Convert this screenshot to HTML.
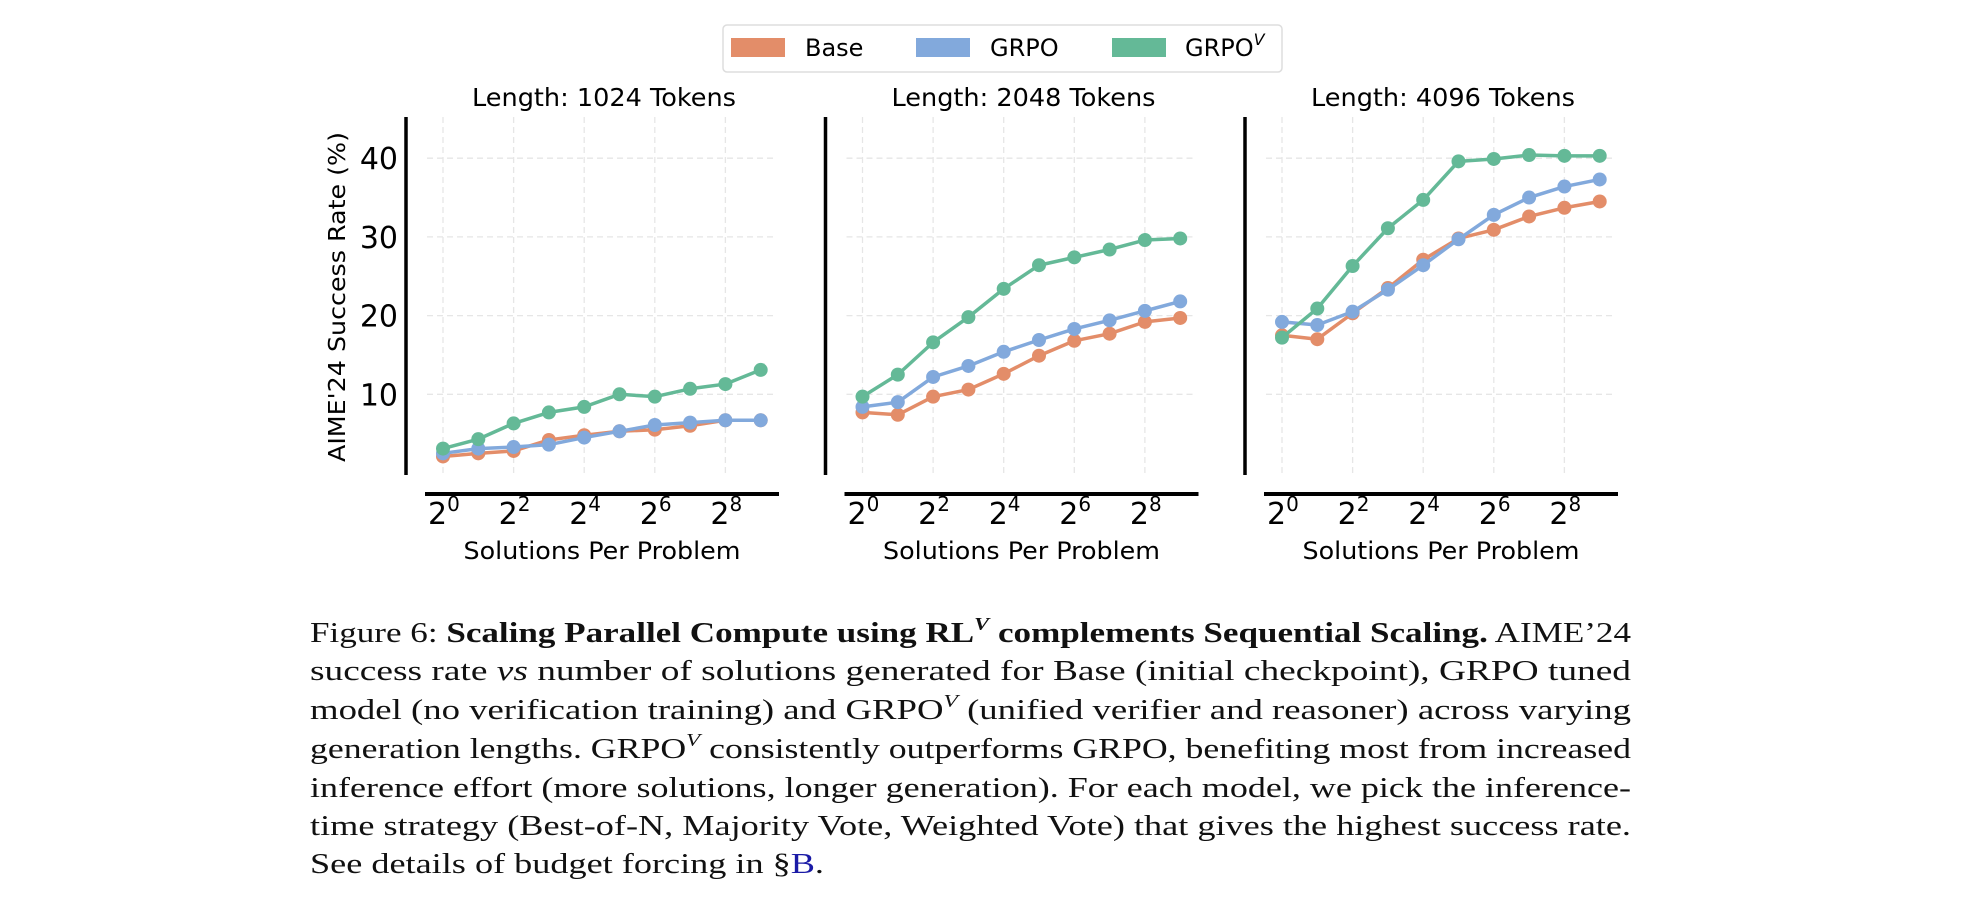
<!DOCTYPE html>
<html><head><meta charset="utf-8"><style>
html,body{margin:0;padding:0;background:#fff;}
svg{display:block;}
</style></head><body>
<svg id="fig" width="1974" height="902" viewBox="0 0 1974 902" xmlns="http://www.w3.org/2000/svg" font-family="'DejaVu Sans','Liberation Sans',sans-serif">
  <g>
    <rect x="723" y="25" width="559" height="47" rx="4" fill="#fff" stroke="#ddd" stroke-width="1.5"/>
    <rect x="731" y="38" width="54" height="19" fill="#E38D69"/>
    <text x="805" y="56" font-size="24">Base</text>
    <rect x="916" y="38" width="54" height="19" fill="#82A9DC"/>
    <text x="990" y="56" font-size="24">GRPO</text>
    <rect x="1112" y="38" width="54" height="19" fill="#64B997"/>
    <text x="1185" y="56" font-size="24">GRPO<tspan font-size="16" font-style="italic" dy="-11">V</tspan></text>
  </g>
  <text transform="translate(345,297) rotate(-90)" text-anchor="middle" font-size="23" textLength="330" lengthAdjust="spacingAndGlyphs">AIME'24 Success Rate (%)</text>
  <g id="panels"></g>
  <g font-family="'Liberation Serif',serif" font-size="28" fill="#111">
    <text x="310" y="642" textLength="1321" lengthAdjust="spacingAndGlyphs">Figure 6: <tspan font-weight="bold">Scaling Parallel Compute using RL<tspan font-size="18" font-style="italic" dy="-12">V</tspan><tspan dy="12"> complements Sequential Scaling.</tspan></tspan> AIME’24</text>
    <text x="310" y="680" textLength="1321" lengthAdjust="spacingAndGlyphs">success rate <tspan font-style="italic">vs</tspan> number of solutions generated for Base (initial checkpoint), GRPO tuned</text>
    <text x="310" y="719" textLength="1321" lengthAdjust="spacingAndGlyphs">model (no verification training) and GRPO<tspan font-size="18" font-style="italic" dy="-12">V</tspan><tspan dy="12"> (unified verifier and reasoner) across varying</tspan></text>
    <text x="310" y="758" textLength="1321" lengthAdjust="spacingAndGlyphs">generation lengths. GRPO<tspan font-size="18" font-style="italic" dy="-12">V</tspan><tspan dy="12"> consistently outperforms GRPO, benefiting most from increased</tspan></text>
    <text x="310" y="797" textLength="1321" lengthAdjust="spacingAndGlyphs">inference effort (more solutions, longer generation). For each model, we pick the inference-</text>
    <text x="310" y="835" textLength="1321" lengthAdjust="spacingAndGlyphs">time strategy (Best-of-N, Majority Vote, Weighted Vote) that gives the highest success rate.</text>
    <text x="310" y="873" textLength="514" lengthAdjust="spacingAndGlyphs">See details of budget forcing in  §<tspan fill="#1a1aa6">B</tspan>.</text>
  </g>
</svg>
<script>
const panelTitles = ["Length: 1024 Tokens", "Length: 2048 Tokens", "Length: 4096 Tokens"];
const exponents = [0,1,2,3,4,5,6,7,8,9];
const xTickExponents = [0,2,4,6,8];
const yTicks = [10,20,30,40];
const seriesNames = ["Base","GRPO","GRPOV"];
const seriesColors = ["#E38D69","#82A9DC","#64B997"];
const base1024 = [2.1,2.5,2.8,4.2,4.8,5.3,5.5,6.0,6.7,6.7];
const grpo1024 = [2.5,3.1,3.3,3.6,4.5,5.3,6.1,6.4,6.7,6.7];
const grpov1024 = [3.1,4.3,6.3,7.7,8.4,10.0,9.7,10.7,11.3,13.1];
const base2048 = [7.7,7.4,9.7,10.6,12.6,14.9,16.8,17.7,19.2,19.7];
const grpo2048 = [8.4,9.0,12.2,13.6,15.4,16.9,18.3,19.4,20.6,21.8];
const grpov2048 = [9.7,12.5,16.6,19.8,23.4,26.4,27.4,28.4,29.6,29.8];
const base4096 = [17.5,17.0,20.3,23.5,27.1,29.8,30.9,32.6,33.7,34.5];
const grpo4096 = [19.2,18.8,20.5,23.3,26.4,29.7,32.8,35.0,36.4,37.3];
const grpov4096 = [17.2,20.9,26.3,31.1,34.7,39.6,39.9,40.4,40.3,40.3];
const panelData = [[base1024,grpo1024,grpov1024],[base2048,grpo2048,grpov2048],[base4096,grpo4096,grpov4096]];

const NS="http://www.w3.org/2000/svg";
const root=document.getElementById('panels');
function mk(tag,attrs,parent){const e=document.createElementNS(NS,tag);for(const k in attrs)e.setAttribute(k,attrs[k]);parent.appendChild(e);return e;}
panelData.forEach((series,p)=>{
  const off=p*419.5;
  const xS=e=>443+off+35.3*e;
  const yS=v=>473-7.87*v;
  const g=mk('g',{},root);
  
  
  xTickExponents.forEach(e=>{
    const l=mk('line',{x1:xS(e),x2:xS(e),y1:117,y2:475,stroke:'#e6e6e6','stroke-width':1.3,'stroke-dasharray':'6,4'},g);
    
    
  });
  yTicks.forEach(v=>{
    const l=mk('line',{x1:427+off,x2:777+off,y1:yS(v),y2:yS(v),stroke:'#e6e6e6','stroke-width':1.3,'stroke-dasharray':'6,4'},g);
    
    
    if(p===0){
      const t=mk('text',{x:398,y:yS(v)+11,'text-anchor':'end','font-size':30},g);
      t.textContent=v;
      
      
    }
  });
  const ya=mk('line',{x1:406+off,x2:406+off,y1:117,y2:475,stroke:'#000','stroke-width':3.5},g);
  
  
  const xa=mk('line',{x1:425+off,x2:779+off,y1:494,y2:494,stroke:'#000','stroke-width':4},g);
  
  
  xTickExponents.forEach(e=>{
    const t=mk('text',{x:xS(e)-15,y:524,'font-size':30},g);
    t.innerHTML='2<tspan font-size="20" dy="-13">'+e+'</tspan>';
    
    
  });
  const ti=mk('text',{x:604+off,y:106,'text-anchor':'middle','font-size':25,textLength:264,lengthAdjust:'spacingAndGlyphs'},g);
  ti.textContent=panelTitles[p];
  
  
  const xl=mk('text',{x:602+off,y:559,'text-anchor':'middle','font-size':24,textLength:277,lengthAdjust:'spacingAndGlyphs'},g);
  xl.textContent='Solutions Per Problem';
  
  
  series.forEach((vals,s)=>{
    const sg=mk('g',{},g);
    
    
    const pts=vals.map((v,i)=>xS(exponents[i])+','+yS(v)).join(' ');
    const pl=mk('polyline',{points:pts,fill:'none',stroke:seriesColors[s],'stroke-width':3.5,'stroke-linejoin':'round'},sg);
    
    
    vals.forEach((v,i)=>{
      const c=mk('circle',{cx:xS(exponents[i]),cy:yS(v),r:7,fill:seriesColors[s]},sg);
      
      
    });
  });
});
</script>
</body></html>
